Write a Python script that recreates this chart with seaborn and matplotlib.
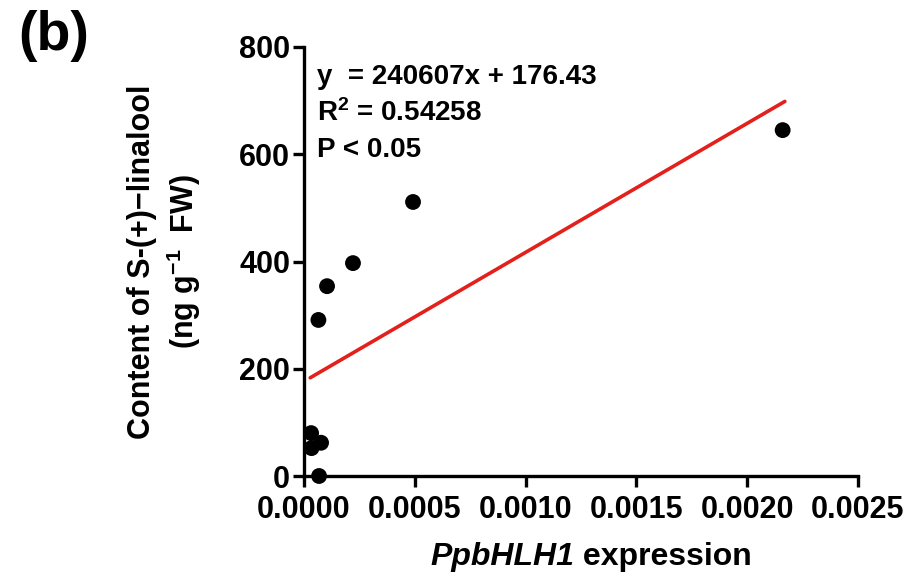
import matplotlib
matplotlib.use("Agg")
import matplotlib.pyplot as plt
import seaborn as sns
import numpy as np
import pandas as pd

# data
expression = [0.00216, 0.000492, 0.000221, 0.000104, 0.000065, 0.000032, 0.000034, 0.000077, 0.000068]
linalool = [645, 511, 397, 354, 291, 80, 52, 62, 0]
slope = 240607
intercept = 176.43
fit_x = [0.000028, 0.00217]
x_ticks = [0.0, 0.0005, 0.0010, 0.0015, 0.0020, 0.0025]
x_tick_labels = ["0.0000", "0.0005", "0.0010", "0.0015", "0.0020", "0.0025"]
y_ticks = [0, 200, 400, 600, 800]

sns.set_style("ticks")
plt.rcParams['font.family'] = ['Liberation Sans', 'DejaVu Sans']
plt.rcParams['font.weight'] = 'bold'
plt.rcParams['text.color'] = 'black'
plt.rcParams['axes.labelcolor'] = 'black'
plt.rcParams['xtick.color'] = 'black'
plt.rcParams['ytick.color'] = 'black'
plt.rcParams['mathtext.fontset'] = 'custom'
plt.rcParams['mathtext.rm'] = 'Liberation Sans:bold'
plt.rcParams['mathtext.it'] = 'Liberation Sans:italic:bold'
plt.rcParams['mathtext.bf'] = 'Liberation Sans:bold'

fig = plt.figure(figsize=(9.09, 5.79), dpi=100)
ax = fig.add_axes([304/909, 1-476/579, (858-304)/909, (476-47)/579])

df = pd.DataFrame({"x": expression, "y": linalool})
fit = pd.DataFrame({"x": fit_x, "y": [slope*v + intercept for v in fit_x]})

sns.lineplot(data=fit, x="x", y="y", ax=ax, color="#E3201B", linewidth=2.6, zorder=2)
sns.scatterplot(data=df, x="x", y="y", ax=ax, color="black", s=130, edgecolor="none", zorder=3, clip_on=False)

ax.set_xlim(0, 0.0025)
ax.set_ylim(0, 800)
ax.set_xticks(x_ticks)
ax.set_xticklabels(x_tick_labels)
ax.set_yticks(y_ticks)
for sp in ["top", "right"]:
    ax.spines[sp].set_visible(False)
for sp in ["left", "bottom"]:
    ax.spines[sp].set_linewidth(2.4)
    ax.spines[sp].set_color("black")
ax.tick_params(axis="both", direction="out", length=8, width=2.4, labelsize=22, colors="black")
ax.tick_params(axis="x", pad=6)
ax.tick_params(axis="y", pad=2)
for lab in ax.get_xticklabels() + ax.get_yticklabels():
    lab.set_fontweight("bold")

ax.set_xlabel("")
t1 = fig.text(430/909, 1-557/579, "PpbHLH1", fontsize=23, fontweight="bold", fontstyle="italic",
              va="center", ha="left", color="black")
ax.annotate(" expression", xy=(1, 0.5), xycoords=t1, va="center", ha="left",
            fontsize=23, fontweight="bold", color="black", annotation_clip=False)

ax.set_ylabel("Content of S-(+)\u2212linalool\n(ng g$^{-1}$  FW)", fontsize=22, fontweight="bold",
              labelpad=26, linespacing=1.25, color="black")

ax.text(0.00006, 744, "y  = 240607x + 176.43", fontsize=20, fontweight="bold", va="center")
ax.text(0.00006, 677, "R$^{2}$ = 0.54258", fontsize=20, fontweight="bold", va="center")
ax.text(0.00006, 608, "P < 0.05", fontsize=20, fontweight="bold", va="center")

fig.text(18/909, 1-36/579, "(b)", fontsize=40, fontweight="bold", va="center", ha="left")

fig.savefig("out.png", dpi=100, facecolor="white")
